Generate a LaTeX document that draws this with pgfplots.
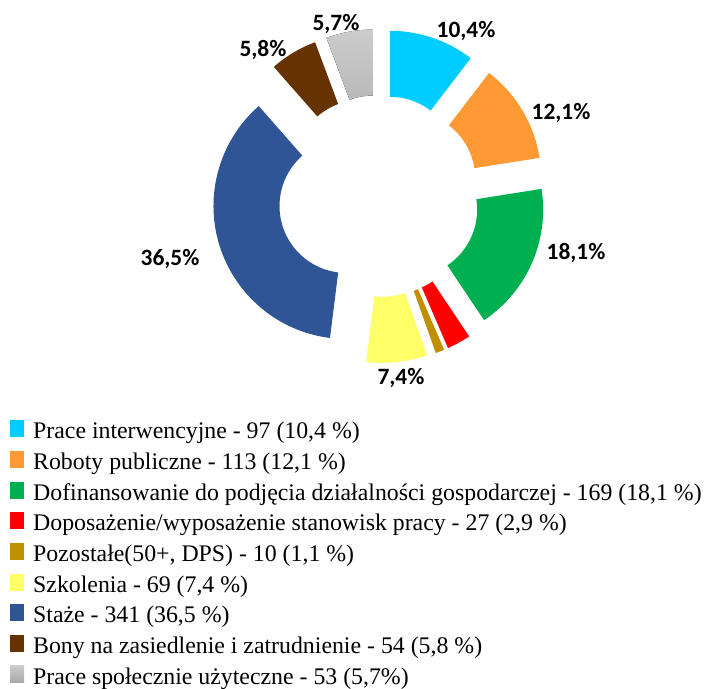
\documentclass[border=0pt]{standalone}
\usepackage{pgfplots}
\pgfplotsset{compat=1.18}
\usepackage{pgfplotstable}
\usepackage{fontspec}
\setmainfont{Liberation Serif}
\newfontfamily\lblfont{Carlito}
\definecolor{cA}{RGB}{0,204,255}
\definecolor{cB}{RGB}{255,153,51}
\definecolor{cC}{RGB}{0,176,80}
\definecolor{cD}{RGB}{255,0,0}
\definecolor{cE}{RGB}{191,143,0}
\definecolor{cF}{RGB}{255,255,102}
\definecolor{cG}{RGB}{47,85,151}
\definecolor{cH}{RGB}{102,51,0}
\definecolor{cIt}{RGB}{204,204,204}
\definecolor{cIb}{RGB}{168,168,168}
\tikzset{
  sA/.style={fill=cA}, sB/.style={fill=cB}, sC/.style={fill=cC},
  sD/.style={fill=cD}, sE/.style={fill=cE}, sF/.style={fill=cF},
  sG/.style={fill=cG}, sH/.style={fill=cH},
  sI/.style={top color=cIt, bottom color=cIb},
}
\pgfplotstableread{
val style lbl lx ly show
97  sA 10,4 466 31 1
113 sB 12,1 561 113 1
169 sC 18,1 576 253 1
27  sD 2,9 0 0 0
10  sE 1,1 0 0 0
69  sF 7,4 401 378 1
341 sG 36,5 170 259 1
54  sH 5,8 263 50 1
53  sI 5,7 336 24 1
}\data
\def\cx{379}\def\cy{196}
\def\Ro{133}\def\Ri{67}\def\Rw{66}\def\expl{34}
\begin{document}
\begin{tikzpicture}
\pgfplotstablegetrowsof{\data}\pgfmathtruncatemacro\N{\pgfplotsretval-1}
\xdef\total{0}
\foreach \i in {0,...,\N}{\pgfplotstablegetelem{\i}{val}\of\data\pgfmathsetmacro\t{\total+\pgfplotsretval}\xdef\total{\t}}
\begin{axis}[x=1bp, y=1bp, xmin=0, xmax=708, ymin=0, ymax=689, y dir=reverse,
  hide axis, clip=false, scale only axis,
  legend style={at={(axis cs:10,420)}, anchor=north west, draw=none, fill=none,
    font=\fontsize{23.9}{28}\selectfont, row sep=6.2bp, column sep=9bp, inner sep=0pt,
    nodes={inner sep=0pt, text height=17bp, text depth=6bp}},
  legend cell align=left,
  legend image code/.code={\fill[#1, draw=none] (0bp,-4bp) rectangle (14bp,13bp);}]
\xdef\cum{0}
\foreach \i in {0,...,\N}{
  \pgfplotstablegetelem{\i}{val}\of\data \let\v\pgfplotsretval
  \pgfplotstablegetelem{\i}{style}\of\data \let\s\pgfplotsretval
  \pgfmathsetmacro\aA{90-360*(\cum/\total)}
  \pgfmathsetmacro\aB{90-360*((\cum+\v)/\total)}
  \pgfmathsetmacro\aM{(\aA+\aB)/2}
  \pgfmathsetmacro\dx{\expl*cos(\aM)}
  \pgfmathsetmacro\dy{\expl*sin(\aM)}
  \edef\temp{\noexpand\fill[\s] ([shift={(\dx bp,\dy bp)}]axis cs:\cx,\cy) ++(\aA:\Ro bp) arc[start angle=\aA,end angle=\aB,radius=\Ro bp] -- ++(\aB+180:\Rw bp) arc[start angle=\aB,end angle=\aA,radius=\Ri bp] -- cycle;}
  \temp
  \pgfmathsetmacro\nc{\cum+\v}\xdef\cum{\nc}
  \pgfplotstablegetelem{\i}{show}\of\data
  \ifnum\pgfplotsretval=1
    \pgfplotstablegetelem{\i}{lbl}\of\data \let\l\pgfplotsretval
    \pgfplotstablegetelem{\i}{lx}\of\data \let\lx\pgfplotsretval
    \pgfplotstablegetelem{\i}{ly}\of\data \let\ly\pgfplotsretval
    \edef\temp{\noexpand\node[font=\noexpand\lblfont\noexpand\bfseries\noexpand\fontsize{23.5}{28}\noexpand\selectfont, inner sep=0pt] at (axis cs:\lx,\ly) {\l\noexpand\%};}
    \temp
  \fi
}
\addlegendimage{sA}\addlegendentry{Prace interwencyjne - 97 (10,4 \%)}
\addlegendimage{sB}\addlegendentry{Roboty publiczne - 113 (12,1 \%)}
\addlegendimage{sC}\addlegendentry{Dofinansowanie do podjęcia działalności gospodarczej - 169 (18,1 \%)}
\addlegendimage{sD}\addlegendentry{Doposażenie/wyposażenie stanowisk pracy - 27 (2,9 \%)}
\addlegendimage{sE}\addlegendentry{Pozostałe(50+, DPS) - 10 (1,1 \%)}
\addlegendimage{sF}\addlegendentry{Szkolenia - 69 (7,4 \%)}
\addlegendimage{sG}\addlegendentry{Staże - 341 (36,5 \%)}
\addlegendimage{sH}\addlegendentry{Bony na zasiedlenie i zatrudnienie - 54 (5,8 \%)}
\addlegendimage{sI}\addlegendentry{Prace społecznie użyteczne - 53 (5,7\%)}
\end{axis}
\pgfresetboundingbox
\path (current axis.south west) rectangle (current axis.north east);
\end{tikzpicture}
\end{document}
